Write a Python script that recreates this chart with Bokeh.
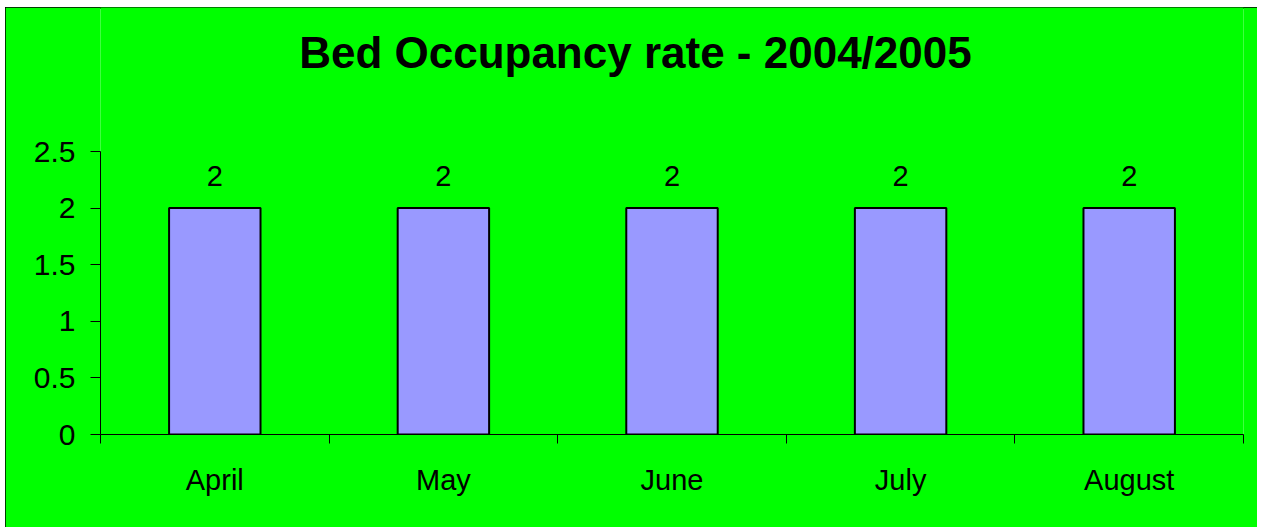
from bokeh.plotting import figure
from bokeh.models import ColumnDataSource, FixedTicker, NumeralTickFormatter, LabelSet, Label, Range1d
from bokeh.core.properties import value
from bokeh.embed import file_html
from bokeh.resources import INLINE

months = ["April", "May", "June", "July", "August"]
rates = [2, 2, 2, 2, 2]
y_ticks = [0, 0.5, 1, 1.5, 2, 2.5]
title_text = "Bed Occupancy rate - 2004/2005"

GREEN = "#00FF00"
FONT = "Liberation Sans"

Y_MAX = 2.5
# frame extends up to the chart's top edge so the title can sit inside it
Y_TOP = Y_MAX * 427 / 283

xs = [i + 0.5 for i in range(len(months))]
src = ColumnDataSource(dict(x=xs, month=months, rate=rates, label=[str(r) for r in rates]))

p = figure(width=1252, height=520, output_backend="svg", toolbar_location=None,
           x_range=Range1d(0, len(months)), y_range=Range1d(0, Y_TOP),
           min_border_left=95, min_border_right=14, min_border_top=0, min_border_bottom=93)
p.margin = (7, 0, 0, 5)
p.background_fill_color = GREEN
p.border_fill_color = GREEN
p.outline_line_color = None
p.grid.grid_line_color = None
p.styles = {"outline": "2px solid black", "outline-offset": "-2px"}

title = Label(x=2.34, y=Y_MAX * 382 / 283, text=title_text, text_align="center",
              text_baseline="alphabetic", text_font=FONT, text_font_size="44px",
              text_font_style="bold", text_color="black")
p.add_layout(title)

p.vbar(x="x", top="rate", width=0.4, bottom=0, source=src,
       fill_color="#9999FF", line_color="black", line_width=2)

labels = LabelSet(x="x", y="rate", text="label", source=src, text_align="center",
                  text_baseline="alphabetic", y_offset=22, text_font=value(FONT),
                  text_font_size="29px", text_color="black")
p.add_layout(labels)

xa = p.xaxis[0]
xa.ticker = FixedTicker(ticks=xs, minor_ticks=list(range(len(months) + 1)))
xa.major_label_overrides = {x: m for x, m in zip(xs, months)}
xa.major_tick_out = 0
xa.major_tick_in = 0
xa.minor_tick_out = 9
xa.minor_tick_in = 0
xa.minor_tick_line_color = "black"
xa.axis_line_color = "black"
xa.major_label_text_font = FONT
xa.major_label_text_font_size = "29px"
xa.major_label_text_color = "black"
xa.major_label_standoff = 20

ya = p.yaxis[0]
ya.ticker = FixedTicker(ticks=y_ticks)
ya.bounds = (0, Y_MAX)
ya.formatter = NumeralTickFormatter(format="0.[0]")
ya.major_tick_out = 10
ya.major_tick_in = 0
ya.minor_tick_line_color = None
ya.axis_line_color = "black"
ya.major_tick_line_color = "black"
ya.major_label_text_font = FONT
ya.major_label_text_font_size = "30px"
ya.major_label_text_color = "black"
ya.major_label_standoff = 15

open("out.html", "w").write(file_html(p, INLINE))
